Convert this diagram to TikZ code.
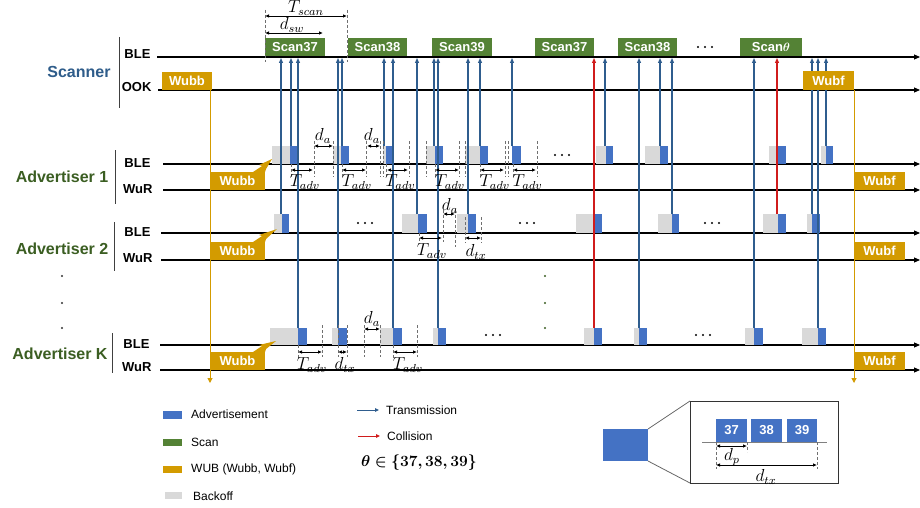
\documentclass[tikz,border=0pt]{standalone}
\usepackage{fontspec}
\setmainfont{Liberation Sans}
\usepackage{bm}
\usetikzlibrary{arrows.meta}
\definecolor{advblue}{HTML}{4472C4}
\definecolor{scangreen}{HTML}{548235}
\definecolor{wubor}{HTML}{D39B00}
\definecolor{bkgrey}{HTML}{D9D9D9}
\definecolor{txblue}{HTML}{2F5D8E}
\definecolor{colred}{HTML}{D01C1C}
\definecolor{scanlbl}{HTML}{2E5C8A}
\definecolor{advlbl}{HTML}{3B5E22}
\definecolor{dashgrey}{HTML}{707070}
\begin{document}
\begin{tikzpicture}[x=1pt,y=-1pt,
  tline/.style={line width=1.1pt,-{Triangle[length=6pt,width=5pt]}},
  brk/.style={line width=1pt,draw=black!75},
  tx/.style={line width=1.1pt,draw=txblue,-{Triangle[length=5pt,width=4pt]}},
  cx/.style={line width=1.1pt,draw=colred,-{Triangle[length=5pt,width=4pt]}},
  wubline/.style={line width=1pt,draw=wubor,-{Triangle[length=5pt,width=5pt]}},
  dsh/.style={draw=dashgrey,line width=0.8pt,dash pattern=on 3pt off 2pt},
  dim/.style={line width=0.9pt,{Latex[length=4pt,width=3.5pt]}-{Latex[length=4pt,width=3.5pt]}},
  grp/.style={font=\fontsize{16}{16}\selectfont\bfseries},
  lbl/.style={font=\fontsize{13}{13}\selectfont\bfseries,anchor=east},
  boxtxt/.style={font=\fontsize{13}{13}\selectfont\bfseries,text=white,inner sep=0},
  mlbl/.style={font=\fontsize{12}{12}\selectfont,inner sep=0,scale=1.45},
  leg/.style={font=\fontsize{12}{12}\selectfont,anchor=west,inner sep=0}
]
\useasboundingbox (0,0) rectangle (920,508);
\fill[white] (0,0) rectangle (920,508);

% ---------- group labels and brackets ----------
\node[grp,text=scanlbl] (scn) at (79,72) {Scanner};
\node[grp,text=advlbl] (ad1) at (62,177) {Advertiser 1};
\node[grp,text=advlbl] (ad2) at (62,249) {Advertiser 2};
\node[grp,text=advlbl] (adk) at (60,354) {Advertiser K};
\draw[brk] (119,37) -- (119,108);
\draw[brk] (115,150) -- (115,204);
\draw[brk] (114,222) -- (114,271);
\draw[brk] (112,333) -- (112,373);
\foreach \yy in {276,303,328} \fill[black!80] (62,\yy) circle (1.2);
\foreach \yy in {276,303,328} \fill[advlbl] (545,\yy) circle (1.2);

% ---------- row labels ----------
\node[lbl] (sble) at (154,54) {BLE};
\node[lbl] (sook) at (155,87) {OOK};
\node[lbl] (a1ble) at (154,163) {BLE};
\node[lbl] (a1wur) at (156,189) {WuR};
\node[lbl] (a2ble) at (154,232) {BLE};
\node[lbl] (a2wur) at (156,258) {WuR};
\node[lbl] (akble) at (153,344) {BLE};
\node[lbl] (akwur) at (155,367) {WuR};

% ---------- time lines ----------
\draw[tline] (157,57) -- (920,57);
\draw[tline] (158,90) -- (920,90);
\draw[tline] (163,164) -- (920,164);
\draw[tline] (163,190) -- (920,190);
\draw[tline] (161,233) -- (920,233);
\draw[tline] (161,260) -- (920,260);
\draw[tline] (160,345) -- (920,345);
\draw[tline] (160,370) -- (920,370);

% ---------- scan boxes ----------
\foreach \xa/\xb/\t in {265/325/Scan37,348/407/Scan38,432/492/Scan39,535/594/Scan37,618/677/Scan38}
  \fill[scangreen] (\xa,38) rectangle (\xb,56) node[boxtxt,midway] {\t};
\fill[scangreen] (740,38) rectangle (802,56) node[boxtxt,midway] {Scan$\bm{\theta}$};
\foreach \dx in {-7,0,7} \fill (705+\dx,47) circle (1.1);

% T_scan and d_sw
\draw[dsh] (265,10) -- (265,62);
\draw[dsh] (347,10) -- (347,62);
\draw[dim] (265,16) -- (347,16);
\node[mlbl] (tscan) at (306,8) {$T_{scan}$};
\draw[dim] (265,33) -- (323,33);
\node[mlbl] (dsw) at (292,25) {$d_{sw}$};

% ---------- advertiser packets ----------
\foreach \bs/\bl/\br in {272/290/298,333/341/349,383/386/394,426/435/443,465/480/488,512/512/521,596/606/613,645/660/668,769/778/786,821/826/833}{
  \fill[bkgrey] (\bs,146) rectangle (\bl,164);
  \fill[advblue] (\bl,146) rectangle (\br,164);
}
\foreach \bs/\bl/\br in {274/282/289,402/418/427,457/468/476,576/594/602,658/672/679,763/778/786,807/812/820}{
  \fill[bkgrey] (\bs,214) rectangle (\bl,233);
  \fill[advblue] (\bl,214) rectangle (\br,233);
}
\foreach \bs/\bl/\br in {270/298/307,332/338/347,380/393/402,433/438/446,584/594/602,634/639/647,745/754/763,802/818/826}{
  \fill[bkgrey] (\bs,328) rectangle (\bl,345);
  \fill[advblue] (\bl,328) rectangle (\br,345);
}
% ellipses in rows
\foreach \cx/\cy in {562/155,365/223,527/223,712/223,493/335,703/335}
  \foreach \dx in {-7,0,7} \fill (\cx+\dx,\cy) circle (1.1);

% ---------- transmissions ----------
\foreach \x/\y in {281/214,291/146,298/328,338/328,342/146,384/146,393/328,417/214,434/146,438/328,468/214,480/146,512/146,605/146,639/328,660/146,672/214,754/328,812/214,818/328,826/146}
  \draw[tx] (\x,\y) -- (\x,58);
\draw[cx] (594,328) -- (594,58);
\draw[cx] (777,214) -- (777,58);

% ---------- WUB boxes ----------
\fill[wubor] (162,72) rectangle (212,90) node[boxtxt,midway] {Wubb};
\fill[wubor] (803,71) rectangle (854,90) node[boxtxt,midway] {Wubf};
\foreach \top/\tx/\ty in {172/272/159,242/277/229,352/276/341}{
  \fill[wubor] (210,\top) rectangle (265,{\top+18}) node[boxtxt,midway] {Wubb};
  \fill[wubor] (253,\top) -- (262,{\top-6}) -- (259,{\top-7}) -- (\tx,\ty) -- (266,{\top-3}) -- (265,\top) -- cycle;
  \fill[wubor] (854,\top) rectangle (905,{\top+18}) node[boxtxt,midway] {Wubf};
}
\draw[wubline] (210,90) -- (210,383);
\draw[wubline] (854,90) -- (854,383);

% ---------- Advertiser 1 annotations ----------
\foreach \x in {314,333,366,380,383,409,426,459,465,505,508,537} \draw[dsh] (\x,141) -- (\x,177);
\foreach \x in {291,342,386,435,480,513} \draw[dsh] (\x,164) -- (\x,178);
\draw[dim] (314,146) -- (333,146);
\node[mlbl] (da1) at (323,136) {$d_a$};
\draw[dim] (367,146) -- (380,146);
\node[mlbl] (da2) at (372,136) {$d_a$};
\foreach \xa/\xb in {291/313,342/366,387/408,435/459,480/504,513/536}{
  \draw[dim] (\xa,170) -- (\xb,170);
  \node[mlbl] at ({(\xa+\xb)/2+3},182) {$T_{adv}$};
}

% ---------- Advertiser 2 annotations ----------
\draw[dsh] (419,233) -- (419,243);
\draw[dsh] (443,210) -- (443,242);
\draw[dsh] (455,210) -- (455,247);
\draw[dsh] (465,217) -- (465,243);
\draw[dsh] (481,217) -- (481,243);
\draw[dim] (419,238) -- (442,238);
\node[mlbl] (ta2) at (432,251) {$T_{adv}$};
\draw[dim] (443,214) -- (455,214);
\node[mlbl] (da3) at (450,206) {$d_a$};
\draw[dim] (465,238) -- (481,238);
\node[mlbl] (dtx1) at (476,252) {$d_{tx}$};

% ---------- Advertiser K annotations ----------
\foreach \x in {322,338,347,364,380,417} \draw[dsh] (\x,325) -- (\x,357);
\foreach \x in {298,393} \draw[dsh] (\x,345) -- (\x,358);
\draw[dim] (298,352) -- (322,352);
\node[mlbl] (tak1) at (312,365) {$T_{adv}$};
\draw[dim] (338,352) -- (347,352);
\node[mlbl] (dtx2) at (345,365) {$d_{tx}$};
\draw[dim] (364,329) -- (380,329);
\node[mlbl] (da4) at (372,319) {$d_a$};
\draw[dim] (393,352) -- (417,352);
\node[mlbl] (tak2) at (408,365) {$T_{adv}$};

% ---------- legend ----------
\fill[advblue] (163,411) rectangle (182,419);
\node[leg] (lg1) at (191,414) {Advertisement};
\fill[scangreen] (163,439) rectangle (182,446);
\node[leg] (lg2) at (191,442) {Scan};
\fill[wubor] (163,466) rectangle (182,473);
\node[leg] (lg3) at (191,469) {WUB (Wubb, Wubf)};
\fill[bkgrey] (165,492) rectangle (182,499);
\node[leg] (lg4) at (193,496) {Backoff};
\coordinate (t1) at (357,410);
\coordinate (t2) at (379,410);
\draw[line width=1pt,draw=txblue,-{Triangle[length=4pt,width=3.5pt]}] (t1) -- (t2);
\node[leg] (lg5) at (386,410) {Transmission};
\coordinate (c1) at (358,436);
\coordinate (c2) at (380,436);
\draw[line width=1pt,draw=colred,-{Triangle[length=4pt,width=3.5pt]}] (c1) -- (c2);
\node[leg] (lg6) at (387,436) {Collision};
\node[font=\fontsize{12}{12}\selectfont,inner sep=0,scale=1.3] (theta) at (419,463) {$\bm{\theta \in \{37, 38, 39\}}$};

% ---------- inset ----------
\fill[advblue] (603,429) rectangle (648,461);
\draw[draw=black!60,line width=0.8pt] (648,429) -- (690,401);
\draw[draw=black!60,line width=0.8pt] (648,461) -- (690,483);
\draw[draw=black!80,line width=0.9pt] (690,401) rectangle (838,483);
\draw[draw=black!50,line width=0.8pt] (702,442) -- (827,442);
\fill[advblue] (716,419) rectangle (747,442) node[boxtxt,midway] {37};
\fill[advblue] (751,419) rectangle (782,442) node[boxtxt,midway] {38};
\fill[advblue] (787,419) rectangle (817,442) node[boxtxt,midway] {39};
\draw[dsh] (716,442) -- (716,469);
\draw[dsh] (747,442) -- (747,452);
\draw[dsh] (817,442) -- (817,469);
\draw[dim] (716,446) -- (747,446);
\node[mlbl] (dp) at (732,457) {$d_p$};
\draw[dim] (716,465) -- (817,465);
\node[mlbl] (dtx3) at (766,477) {$d_{tx}$};
\end{tikzpicture}
\end{document}
